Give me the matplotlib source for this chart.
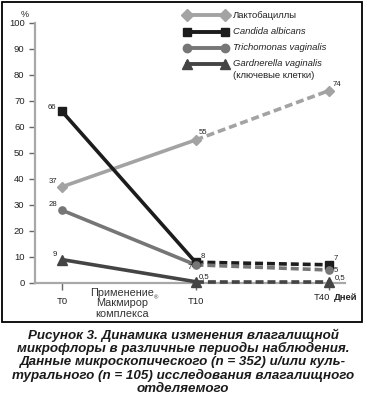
import matplotlib.pyplot as plt
from matplotlib.lines import Line2D
from matplotlib.patches import Rectangle

plt.rcParams['font.family'] = ['Liberation Sans', 'DejaVu Sans']

W, H = 365, 398

# Data
periods = ['T0', 'T10', 'T40']
lacto = [37, 55, 74]
candida = [66, 8, 7]
trich = [28, 7, 5]
gard = [9, 0.5, 0.5]

series_names = ['Лактобациллы', 'Candida albicans', 'Trichomonas vaginalis',
                'Gardnerella vaginalis']
series_vals = [lacto, candida, trich, gard]
colors = ['#a3a3a3', '#1c1c1c', '#767676', '#444444']
markers = ['D', 's', 'o', '^']
msizes = [5.2, 5.2, 5.2, 7]

# label centre offsets from the point, in pixels (y up)
offsets = [
    [(-9, 5), (7, 8), (8, 6)],
    [(-10, 4), (7, 6), (7, 6)],
    [(-9, 6), (-6, -3), (7, 0)],
    [(-7, 5), (9, 5), (11, 4)],
]


def fmt(v):
    return ('%g' % v).replace('.', ',')


def px(x, y):
    return x / W, 1 - y / H


fig = plt.figure(figsize=(W / 100, H / 100), dpi=100)
ax = fig.add_axes([35 / W, 1 - 283 / H, 310 / W, 260 / H])

x = list(range(len(periods)))
for vals, c, m, ms, offs in zip(series_vals, colors, markers, msizes, offsets):
    ax.plot(x[:2], vals[:2], color=c, lw=2.6, solid_capstyle='butt', zorder=3,
            clip_on=False)
    ax.plot(x[1:], vals[1:], color=c, lw=2.6, ls=(0, (2.2, 1.1)), zorder=3,
            clip_on=False)
    ax.plot(x, vals, ls='none', marker=m, ms=ms, color=c, zorder=4,
            clip_on=False)
    for xi, v, (dx, dy) in zip(x, vals, offs):
        ax.annotate(fmt(v), (xi, v), xytext=(dx * 0.72, dy * 0.72),
                    textcoords='offset points', ha='center', va='center',
                    fontsize=5.6, color='#222222', zorder=5)

ax.set_xlim((35 - 62) / 133.5, (345 - 62) / 133.5)
ax.set_ylim(0, 100)
for s in ['top', 'right']:
    ax.spines[s].set_visible(False)
for s in ['left', 'bottom']:
    ax.spines[s].set_color('#a8a8a8')
    ax.spines[s].set_linewidth(1.6)
ax.set_yticks(range(0, 101, 10))
ax.set_xticks(x)
ax.set_xticklabels(periods[:2] + [''])
ax.tick_params(axis='both', colors='#666666', labelcolor='#222222',
               labelsize=6.8, length=4, width=1)
ax.tick_params(axis='x', length=5, pad=5)

ax.text(-0.02, 1.015, '%', transform=ax.transAxes, ha='right', va='bottom',
        fontsize=6.5, color='#222222')
fig.text(*px(322, 297), periods[2], ha='center', va='center', fontsize=6.8,
         color='#222222')
fig.text(*px(346, 297), 'Дней', ha='center', va='center', fontsize=6.8,
         fontweight='bold', color='#222222')
fig.text(*px(122, 303.5), 'Применение\nМакмирор\nкомплекса', ha='center',
         va='center', fontsize=7.8, color='#333333', linespacing=1.1)
fig.text(*px(156, 298), '®', ha='center', va='center', fontsize=4.2,
         color='#333333')

# legend drawn by hand
leg_rows = [15, 32, 48, 64]
for name, c, m, ms, ly in zip(series_names, colors, markers, msizes, leg_rows):
    fx0, fy = px(187, ly)
    fx1, _ = px(225, ly)
    fig.add_artist(Line2D([fx0, fx1], [fy, fy], color=c, lw=2.8, marker=m,
                          ms=ms + 0.8, transform=fig.transFigure))
    style = 'normal' if name == 'Лактобациллы' else 'italic'
    fig.text(px(233, ly)[0], fy, name, ha='left', va='center', fontsize=6.8,
             style=style, color='#222222')
fig.text(*px(233, 76), '(ключевые клетки)', ha='left', va='center',
         fontsize=6.8, color='#222222')

# frame around the chart
fig.add_artist(Rectangle(px(2, 322), 360 / W, 320 / H, fill=False,
                         edgecolor='black', lw=1.3, transform=fig.transFigure))

caption = ('Рисунок 3. Динамика изменения влагалищной\n'
           'микрофлоры в различные периоды наблюдения.\n'
           'Данные микроскопического (n = 352) и/или куль-\n'
           'турального (n = 105) исследования влагалищного\n'
           'отделяемого')
fig.text(*px(183, 361.5), caption, ha='center', va='center', fontsize=9.6,
         fontweight='bold', style='italic', color='#1a1a1a', linespacing=1.08)

fig.savefig('out.png', dpi=100)
